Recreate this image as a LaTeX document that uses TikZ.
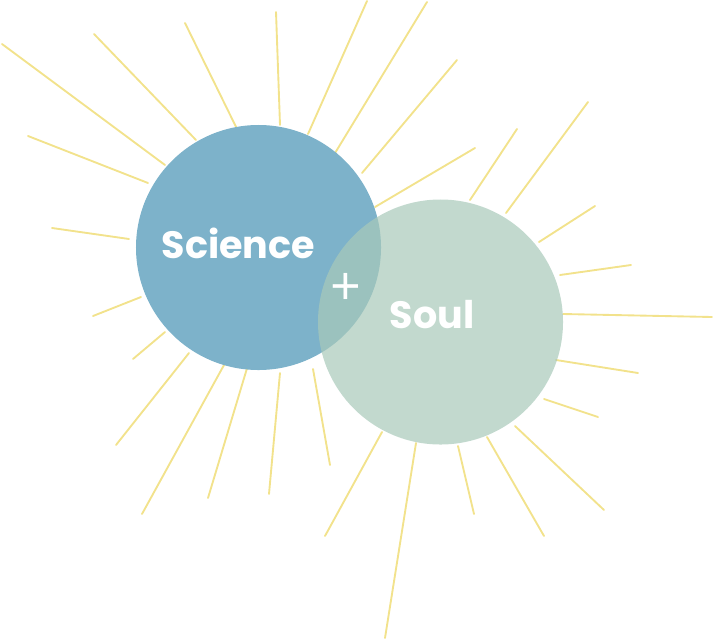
\documentclass[tikz,border=0pt]{standalone}
\usepackage{fontspec}
\setmainfont{Open Sans}
\newfontfamily\labelfont{Poppins}
\usetikzlibrary{positioning}
\definecolor{sciblue}{RGB}{125,178,202}
\definecolor{soulgreen}{RGB}{168,201,185}
\definecolor{sunray}{RGB}{242,226,140}

\begin{document}
\begin{tikzpicture}[x=0.03cm, y=-0.03cm,
    ray/.style={draw=sunray, line width=1.6pt, line cap=round},
    bubble/.style={circle, minimum size=7.35cm, inner sep=0pt},
    bubbletext/.style={font=\labelfont\fontsize{32.5}{34}\selectfont\bfseries, text=white, anchor=base}]

    % Page frame, in pixels of the reference
    \useasboundingbox (0,0) rectangle (713,640);

    % Sun rays: outer end / end at the circle
    \foreach \xa/\ya/\xb/\yb in {
        2/44/165/165, 94/34/196/140, 185/23/240/135, 276/12/280/125,
        367/1/308/134, 427/2/332/158, 457/60/362/173, 475/148/375/207,
        517/129/470/200, 588/102/506/213, 595/206/539/242, 631/265/560/275,
        712/317/563/314, 28/136/148/183, 52/228/129/239, 93/316/141/297,
        133/359/165/332, 116/445/189/353, 142/514/224/365, 208/498/248/365,
        269/494/280/373, 330/465/313/369, 325/536/382/432, 385/638/416/443,
        474/514/458/446, 544/536/487/437, 604/510/515/426, 598/417/544/399,
        638/373/556/360} {
        \draw[ray] (\xa,\ya) -- (\xb,\yb);
    }

    % The two circles
    \node[bubble, fill=sciblue] (science) at (258.5,247.5) {};
    \node[bubble, fill=soulgreen, fill opacity=0.7] (soul) at (440.5,322) {};

    % Labels
    \node[bubbletext] (sciencelabel) at (238.5,258) {Science};
    \node[bubbletext] (soullabel) at (432,328) {Soul};
    \node[font=\fontsize{46}{46}\selectfont, text=white] (plus) at (346,289) {+};
\end{tikzpicture}
\end{document}
